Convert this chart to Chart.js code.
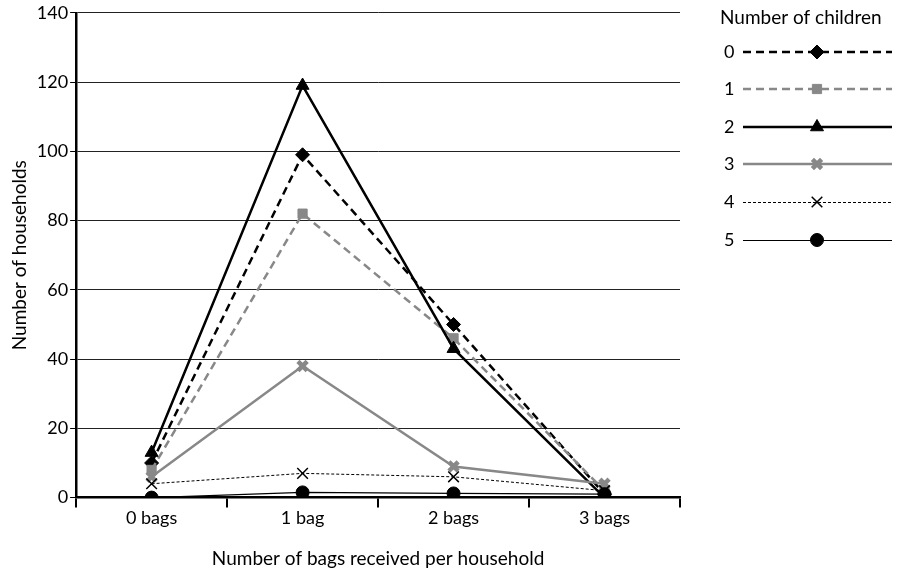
<!DOCTYPE html>
<html><head><meta charset="utf-8">
<script src="https://cdn.jsdelivr.net/npm/chart.js@4/dist/chart.umd.min.js"></script>
<style>html,body{margin:0;padding:0;background:#fff}#wrap{width:898px;height:573px}</style>
</head><body><div id="wrap"><canvas id="c" width="898" height="573"></canvas></div>
<script>
const categories = ['0 bags', '1 bag', '2 bags', '3 bags'];
const seriesNames = ['0', '1', '2', '3', '4', '5'];
const children0 = [10, 99, 50, 1];
const children1 = [8, 82, 46, 2];
const children2 = [13, 119, 43, 0];
const children3 = [6, 38, 9, 4];
const children4 = [4, 7, 6, 2];
const children5 = [0, 1.5, 1.2, 1];
const yTicks = [0, 20, 40, 60, 80, 100, 120, 140];
const legendTitle = 'Number of children';
const xTitle = 'Number of bags received per household';
const yTitle = 'Number of households';

const FONT = 'Lato, "Open Sans", sans-serif';
const FS = 18;
const styles = [
  {color:'#000', width:2.5, dash:[8,5], point:'rectRot', r:7, pbw:1, pcolor:'#000'},
  {color:'#888', width:2.5, dash:[8,5], point:'rect', r:6.5, pbw:1, pcolor:'#888'},
  {color:'#000', width:2.5, dash:[], point:'triangle', r:7.5, pbw:1, pcolor:'#000'},
  {color:'#888', width:2.5, dash:[], point:'crossRot', r:6.5, pbw:4.5, pcolor:'#888'},
  {color:'#000', width:1, dash:[3,2], point:'crossRot', r:7.5, pbw:1.5, pcolor:'#000'},
  {color:'#000', width:1.2, dash:[], point:'circle', r:6.5, pbw:1, pcolor:'#000'}
];
const seriesData = [children0, children1, children2, children3, children4, children5];
const datasets = seriesData.map((d, i) => ({
  label: seriesNames[i], data: d,
  borderColor: styles[i].color, borderWidth: styles[i].width, borderDash: styles[i].dash,
  pointStyle: styles[i].point, pointRadius: styles[i].r, pointHoverRadius: styles[i].r,
  pointBackgroundColor: styles[i].pcolor, pointBorderColor: styles[i].pcolor,
  pointBorderWidth: styles[i].pbw, fill: false, tension: 0, order: 6 - i
}));

const legendPlugin = {
  id: 'customLegend',
  afterDraw(chart) {
    const ctx = chart.ctx;
    ctx.save();
    ctx.fillStyle = '#000';
    ctx.font = (FS + 1) + 'px ' + FONT;
    ctx.textBaseline = 'middle';
    ctx.textAlign = 'left';
    ctx.fillText(legendTitle, 720, 18);
    ctx.font = FS + 'px ' + FONT;
    const x0 = 743, x1 = 892, xm = 817;
    const ys = [52, 89, 127, 164, 202, 240];
    chart.data.datasets.forEach((ds, i) => {
      const y = ys[i] + (ds.borderWidth < 2 ? 0.5 : 0);
      ctx.fillStyle = '#000';
      ctx.fillText(ds.label, 724, ys[i]);
      ctx.beginPath();
      ctx.strokeStyle = ds.borderColor;
      ctx.lineWidth = ds.borderWidth;
      ctx.setLineDash(ds.borderDash);
      ctx.moveTo(x0, y); ctx.lineTo(x1, y);
      ctx.stroke();
      ctx.setLineDash([]);
      ctx.fillStyle = ds.pointBackgroundColor;
      ctx.strokeStyle = ds.pointBorderColor;
      ctx.lineWidth = ds.pointBorderWidth;
      Chart.helpers.drawPoint(ctx, {pointStyle: ds.pointStyle, radius: ds.pointRadius, borderWidth: ds.pointBorderWidth, rotation: 0}, xm, ys[i]);
    });
    ctx.restore();
  }
};

new Chart(document.getElementById('c'), {
  type: 'line',
  data: { labels: categories, datasets },
  options: {
    responsive: false, animation: false,
    layout: { padding: { top: 11, right: 218, left: 8, bottom: 3 } },
    plugins: { legend: { display: false }, tooltip: { enabled: false } },
    scales: {
      x: {
        offset: true,
        grid: { offset: true, drawOnChartArea: true, tickLength: 10, tickWidth: 2, tickColor: '#000',
          color: c => (c.index === categories.length ? '#888' : 'rgba(0,0,0,0)'), lineWidth: 2 },
        border: { display: true, color: '#000', width: 2.5 },
        ticks: { color: '#000', font: { family: FONT, size: FS }, padding: 0 },
        title: { display: true, text: xTitle, color: '#000', font: { family: FONT, size: FS + 1 }, padding: { top: 18, bottom: 0 } }
      },
      y: {
        min: 0, max: 140,
        afterBuildTicks: s => { s.ticks = yTicks.map(v => ({ value: v })); },
        grid: { color: '#222', lineWidth: 1, tickLength: 6, tickColor: '#000' },
        border: { display: true, color: '#000', width: 2.5 },
        ticks: { color: '#000', font: { family: FONT, size: FS }, padding: 2 },
        title: { display: true, text: yTitle, color: '#000', font: { family: FONT, size: FS + 1 }, padding: { top: 0, bottom: 4 } }
      }
    }
  },
  plugins: [legendPlugin]
});
</script></body></html>
